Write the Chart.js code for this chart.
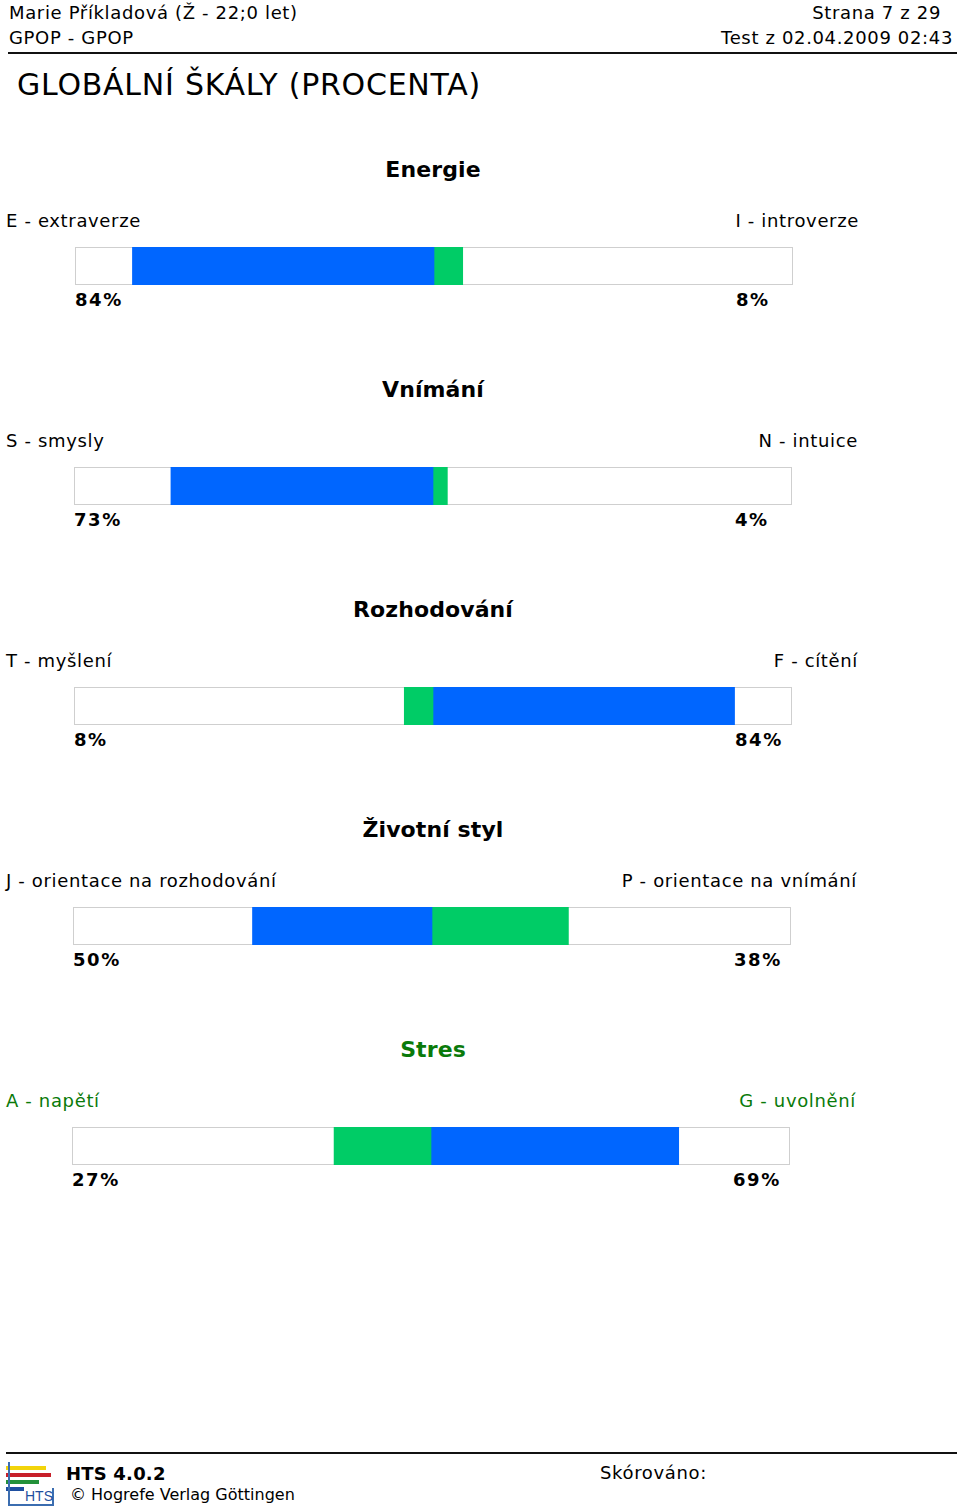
<!DOCTYPE html>
<html>
<head>
<meta charset="utf-8">
<script src="https://cdn.jsdelivr.net/npm/chart.js@4"></script>
<style>
  body { margin: 0; background: #fff; font-family: "DejaVu Sans", Verdana, sans-serif; color: #000; }
  #page { position: relative; width: 960px; height: 1508px; overflow: hidden; }
  .t { position: absolute; white-space: nowrap; line-height: 1; letter-spacing: 0.65px; }
  .rule { position: absolute; height: 2px; background: #111; }
  .box { position: absolute; }
</style>
</head>
<body>
<div id="page">
  <div class="t" style="left:9px;top:4px;font-size:18px">Marie Příkladová (Ž - 22;0 let)</div>
  <div class="t" style="left:9px;top:29px;font-size:18px">GPOP - GPOP</div>
  <div class="t" style="right:19px;top:4px;font-size:18px">Strana 7 z 29</div>
  <div class="t" style="right:7px;top:29px;font-size:18px">Test z 02.04.2009 02:43</div>
  <div class="rule" style="left:8px;top:52px;width:949px"></div>
  <div class="t" style="left:17px;top:70px;font-size:30px;letter-spacing:0.75px">GLOBÁLNÍ ŠKÁLY (PROCENTA)</div>

  <div class="rule" style="left:6px;top:1452px;width:951px"></div>
  <div style="position:absolute;left:6px;top:1462px;width:48px;height:44px;">
    <div style="position:absolute;left:0;top:4px;width:40px;height:4px;background:#f2d40a"></div>
    <div style="position:absolute;left:0;top:11px;width:45px;height:4px;background:#c8202a"></div>
    <div style="position:absolute;left:0;top:18px;width:33px;height:4px;background:#23913a"></div>
    <div style="position:absolute;left:0;top:25px;width:18px;height:4px;background:#1f4fa0"></div>
    <div style="position:absolute;left:2px;top:0;width:2px;height:43px;background:#3b6db0"></div>
    <div style="position:absolute;left:2px;top:42px;width:46px;height:2px;background:#3b6db0"></div>
    <div style="position:absolute;left:46px;top:26px;width:2px;height:18px;background:#3b6db0"></div>
    <div class="t" style="left:19px;top:27px;font-size:14px;letter-spacing:0;color:#1f4fa0;font-family:'Liberation Sans Narrow','Liberation Sans',sans-serif">HTS</div>
  </div>
  <div class="t" style="left:66px;top:1465px;font-size:18px;font-weight:bold;letter-spacing:0.2px">HTS 4.0.2</div>
  <div class="t" style="left:70px;top:1487px;font-size:16px;letter-spacing:0">© Hogrefe Verlag Göttingen</div>
  <div class="t" style="left:600px;top:1464px;font-size:18px">Skórováno:</div>
</div>
<script>
const scaleNames = ['Energie', 'Vnímání', 'Rozhodování', 'Životní styl', 'Stres'];
const leftPoles = ['E - extraverze', 'S - smysly', 'T - myšlení', 'J - orientace na rozhodování', 'A - napětí'];
const rightPoles = ['I - introverze', 'N - intuice', 'F - cítění', 'P - orientace na vnímání', 'G - uvolnění'];
const leftValues = [84, 73, 8, 50, 27];
const rightValues = [8, 4, 84, 38, 69];

const BLUE = '#0066ff';
const GREEN = '#00cc66';
const page = document.getElementById('page');

// outline of the empty bar
const frame = {
  id: 'frame',
  beforeDatasetsDraw(chart) {
    const a = chart.chartArea, c = chart.ctx;
    c.save();
    c.strokeStyle = '#cfcfcf';
    c.lineWidth = 1;
    c.strokeRect(a.left + 0.5, a.top + 0.5, a.width - 1, a.height - 1);
    c.restore();
  }
};

function addText(txt, css) {
  const d = document.createElement('div');
  d.className = 't';
  d.textContent = txt;
  Object.assign(d.style, css);
  page.appendChild(d);
}

scaleNames.forEach((name, i) => {
  const y0 = 220 * i;
  const shift = Math.round(i * 0.7); // page is slightly skewed
  const color = i === 4 ? '#0a7a0a' : '#000';
  const left = 75 - shift;

  addText(name, { left: '0px', width: '866px', textAlign: 'center', top: (159 + y0) + 'px', fontSize: '22px', fontWeight: 'bold', color: color, letterSpacing: '0.1px' });
  addText(leftPoles[i], { left: '6px', top: (212 + y0) + 'px', fontSize: '18px', color: color });
  addText(rightPoles[i], { right: (101 + shift) + 'px', top: (212 + y0) + 'px', fontSize: '18px', color: color });
  addText(leftValues[i] + '%', { left: left + 'px', top: (291 + y0) + 'px', fontSize: '18px', fontWeight: 'bold', letterSpacing: '1.6px' });
  addText(rightValues[i] + '%', { left: (736 - shift) + 'px', top: (291 + y0) + 'px', fontSize: '18px', fontWeight: 'bold', letterSpacing: '1.6px' });

  const box = document.createElement('div');
  box.className = 'box';
  box.style.left = left + 'px';
  box.style.top = (247 + y0) + 'px';
  box.style.width = '718px';
  box.style.height = '38px';
  const cv = document.createElement('canvas');
  box.appendChild(cv);
  page.appendChild(box);

  const leftBig = leftValues[i] >= rightValues[i];
  new Chart(cv, {
    type: 'bar',
    data: {
      labels: [name],
      datasets: [
        { data: [-leftValues[i]], backgroundColor: leftBig ? BLUE : GREEN },
        { data: [rightValues[i]], backgroundColor: leftBig ? GREEN : BLUE }
      ]
    },
    options: {
      indexAxis: 'y',
      responsive: true,
      maintainAspectRatio: false,
      animation: false,
      layout: { padding: 0 },
      datasets: { bar: { barPercentage: 1, categoryPercentage: 1, borderWidth: 0 } },
      scales: {
        x: { min: -100, max: 100, stacked: true, display: false },
        y: { stacked: true, display: false }
      },
      plugins: { legend: { display: false }, tooltip: { enabled: false } }
    },
    plugins: [frame]
  });
});
</script>
</body>
</html>
